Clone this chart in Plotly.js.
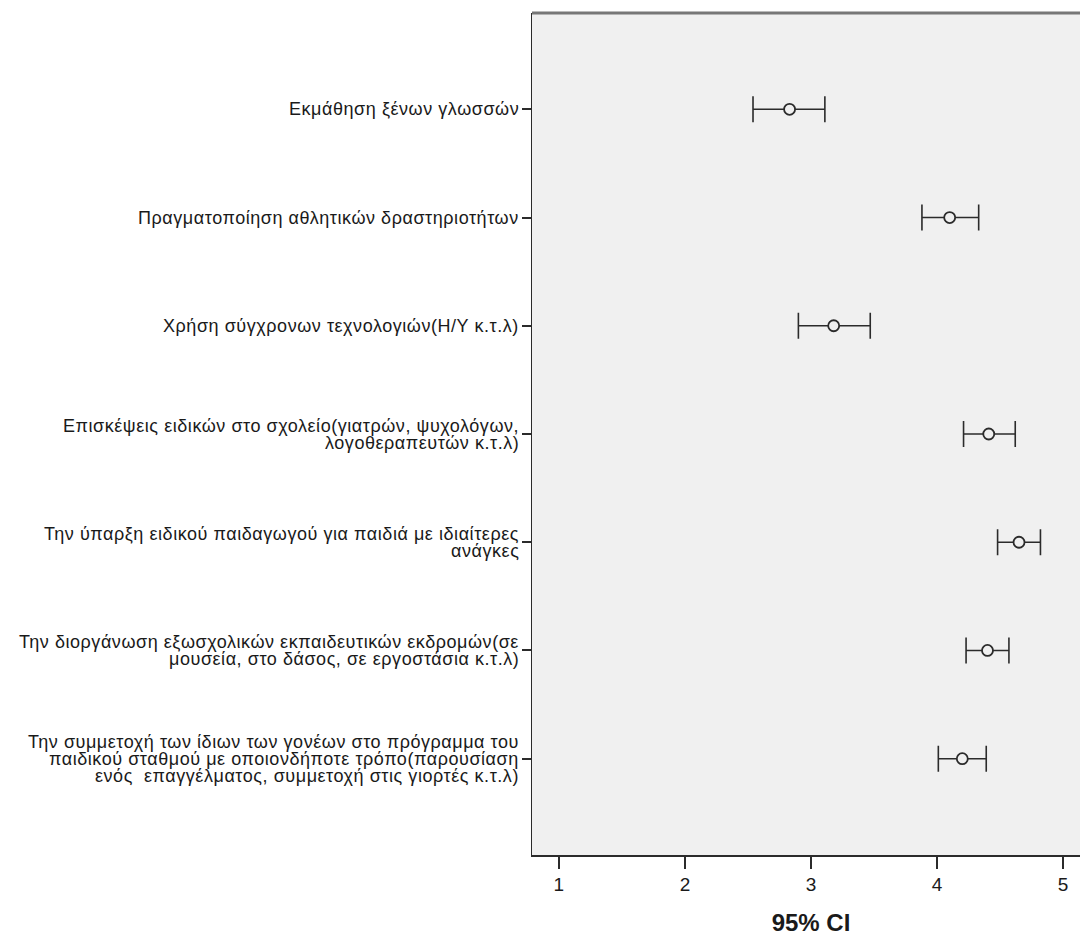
<!DOCTYPE html>
<html>
<head>
<meta charset="utf-8">
<script src="https://cdn.plot.ly/plotly-3.0.1.min.js"></script>
<style>
  html, body { margin: 0; padding: 0; background: #fff; overflow: hidden; width: 1080px; height: 939px; }
  #chart { width: 1090px; height: 939px; }
  .annotation-text { letter-spacing: 0.55px; }
</style>
</head>
<body>
<div id="chart"></div>
<script>
// ---- data ----
const labelLines = [
  ["Εκμάθηση ξένων γλωσσών"],
  ["Πραγματοποίηση αθλητικών δραστηριοτήτων"],
  ["Χρήση σύγχρονων τεχνολογιών(Η/Υ κ.τ.λ)"],
  ["Επισκέψεις ειδικών στο σχολείο(γιατρών, ψυχολόγων,", "λογοθεραπευτών κ.τ.λ)"],
  ["Την ύπαρξη ειδικού παιδαγωγού για παιδιά με ιδιαίτερες", "ανάγκες"],
  ["Την διοργάνωση εξωσχολικών εκπαιδευτικών εκδρομών(σε", "μουσεία, στο δάσος, σε εργοστάσια κ.τ.λ)"],
  ["Την συμμετοχή των ίδιων των γονέων στο πρόγραμμα του", "παιδικού σταθμού με οποιονδήποτε τρόπο(παρουσίαση", "ενός  επαγγέλματος, συμμετοχή στις γιορτές κ.τ.λ)"]
];
const means = [2.83, 4.10, 3.18, 4.41, 4.65, 4.40, 4.20];
const lower = [2.54, 3.88, 2.90, 4.21, 4.48, 4.23, 4.01];
const upper = [3.11, 4.33, 3.47, 4.62, 4.82, 4.57, 4.39];
const xTicks = [1, 2, 3, 4, 5];
const xTitle = "95% CI";

const categories = labelLines.map(l => l.join(" "));

const trace = {
  type: "scatter",
  mode: "markers",
  x: means,
  y: categories,
  marker: { symbol: "circle", size: 11, color: "#f0f0f0", line: { color: "#2b2b2b", width: 1.8 } },
  error_x: {
    type: "data",
    symmetric: false,
    array: upper.map((u, i) => u - means[i]),
    arrayminus: lower.map((l, i) => means[i] - l),
    color: "#2b2b2b",
    thickness: 1.6,
    width: 13
  },
  hoverinfo: "skip",
  showlegend: false
};

const LINE_GAP = 17;
const annotations = [];
labelLines.forEach((lines, i) => {
  const n = lines.length;
  lines.forEach((txt, j) => {
    annotations.push({
      xref: "paper", x: 0, xanchor: "right", xshift: -11,
      yref: "y", y: categories[i], yanchor: "middle",
      yshift: -((j - (n - 1) / 2) * LINE_GAP),
      text: txt, showarrow: false,
      font: { family: "Liberation Sans, Arial, sans-serif", size: 18, color: "#1a1a1a" }
    });
  });
});

const layout = {
  width: 1090, height: 939,
  margin: { l: 532, r: 0, t: 13, b: 84 },
  paper_bgcolor: "#ffffff",
  plot_bgcolor: "#f0f0f0",
  font: { family: "Liberation Sans, Arial, sans-serif", color: "#1a1a1a" },
  xaxis: {
    range: [0.787, 5.213],
    tickvals: xTicks,
    ticktext: xTicks.map(String),
    ticks: "outside", ticklen: 12, tickwidth: 2, tickcolor: "#2b2b2b",
    tickfont: { size: 19, color: "#1a1a1a" },
    showgrid: false, zeroline: false,
    showline: true, linecolor: "#2b2b2b", linewidth: 1.5,
    title: { text: xTitle, font: { size: 24, weight: "bold", color: "#1a1a1a" }, standoff: 20 }
  },
  yaxis: {
    type: "category",
    categoryorder: "array", categoryarray: categories,
    range: [6.89, -0.89],
    showticklabels: false,
    ticks: "outside", ticklen: 9, tickwidth: 2, tickcolor: "#2b2b2b",
    showgrid: false, zeroline: false,
    showline: true, linecolor: "#2b2b2b", linewidth: 1.5
  },
  shapes: [
    { type: "line", xref: "paper", yref: "paper", x0: 0, x1: 1, y0: 1, y1: 1,
      line: { color: "#777777", width: 3 } }
  ],
  annotations: annotations
};

Plotly.newPlot("chart", [trace], layout, { staticPlot: true, displayModeBar: false });
</script>
</body>
</html>
